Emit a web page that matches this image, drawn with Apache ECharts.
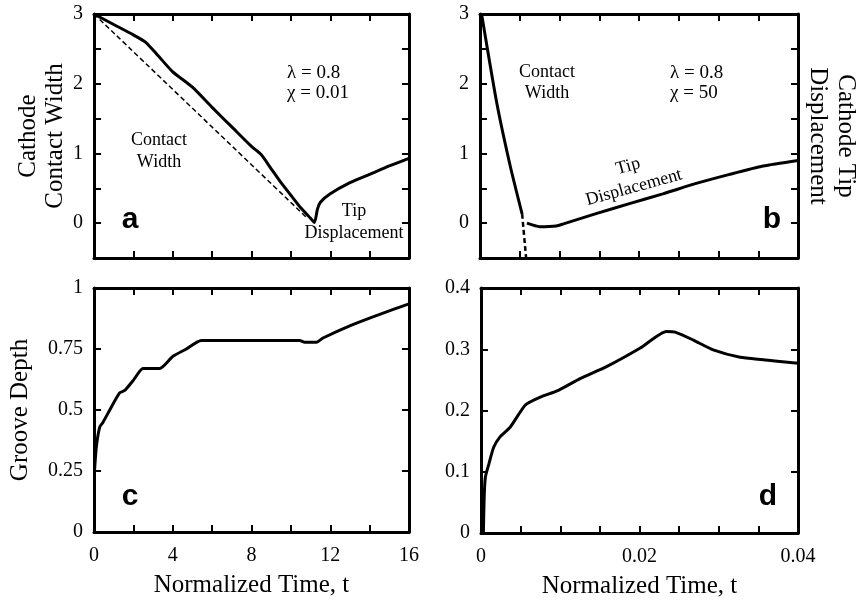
<!DOCTYPE html>
<html>
<head>
<meta charset="utf-8">
<script src="https://cdn.jsdelivr.net/npm/echarts@6/dist/echarts.min.js"></script>
<style>
html, body { margin: 0; padding: 0; background: #fff; }
#main { width: 857px; height: 600px; }
</style>
</head>
<body>
<div id="main"></div>
<script>
// panel a : chi = 0.01
var aTime  = [0, 1, 2, 2.6, 3.2, 4, 5, 6, 7, 8, 8.5, 9, 9.5, 10, 10.5, 11, 11.2, 11.35, 11.5, 12, 13, 14, 15, 16];
var aWidth = [3, 2.85, 2.7, 2.6, 2.42, 2.17, 1.95, 1.66, 1.38, 1.1, 0.98, 0.78, 0.58, 0.4, 0.22, 0.07, 0.01, 0.2, 0.3, 0.42, 0.58, 0.7, 0.82, 0.93];
var aDashTime  = [0, 10.8];
var aDashWidth = [3, 0.08];

// panel b : chi = 50
var bTime  = [0.0002, 0.0021, 0.0038, 0.0053];
var bWidth = [3, 1.73, 0.82, 0.13];
var bDashTime  = [0.0053, 0.0058];
var bDashWidth = [0.13, -0.5];
var bTipTime = [0.0059, 0.0075, 0.0096, 0.0105, 0.0147, 0.0188, 0.023, 0.0272, 0.0314, 0.0356, 0.04];
var bTipDisp = [0, -0.05, -0.04, -0.01, 0.14, 0.28, 0.42, 0.57, 0.7, 0.82, 0.9];

// panel c : groove depth, chi = 0.01
var cTime  = [0.03, 0.12, 0.29, 0.46, 0.8, 1.3, 1.56, 1.98, 2.49, 3.0, 3.34, 4.01, 4.69, 5.45, 10.45, 10.7, 11.3, 11.63, 12.99, 14.34, 16];
var cDepth = [0.255, 0.35, 0.43, 0.45, 0.5, 0.57, 0.58, 0.62, 0.67, 0.67, 0.67, 0.72, 0.75, 0.785, 0.785, 0.778, 0.778, 0.795, 0.845, 0.887, 0.935];

// panel d : groove depth, chi = 50
var dTime  = [0.0003, 0.0004, 0.00055, 0.001, 0.0016, 0.0024, 0.0037, 0.0056, 0.0075, 0.0096, 0.0125, 0.0159, 0.0201, 0.0234, 0.0245, 0.0268, 0.0293, 0.0327, 0.0356, 0.04];
var dDepth = [0, 0.058, 0.091, 0.113, 0.14, 0.157, 0.173, 0.209, 0.222, 0.232, 0.252, 0.272, 0.302, 0.329, 0.328, 0.315, 0.299, 0.287, 0.283, 0.277];

var serif = '"Liberation Serif", "Times New Roman", serif';

function zip(xs, ys) {
  return xs.map(function (x, i) { return [x, ys[i]]; });
}

function every(step) {
  return function (v) {
    var r = v / step;
    return Math.abs(r - Math.round(r)) < 1e-6 ? String(+v.toFixed(4)) : '';
  };
}

function axis(grid, pos, min, max, interval, labels, name, nameGap, nameRotate, nameLh) {
  var horiz = pos === 'bottom' || pos === 'top';
  return {
    type: 'value',
    gridIndex: grid,
    position: pos,
    min: min,
    max: max,
    interval: interval,
    name: name || '',
    nameLocation: 'middle',
    nameGap: nameGap || 0,
    nameRotate: nameRotate,
    nameTextStyle: { fontFamily: serif, fontSize: 25, color: '#000', lineHeight: nameLh || 27 },
    axisLine: { show: true, onZero: false, lineStyle: { color: '#000', width: 3 } },
    axisTick: { show: true, inside: true, length: 7, lineStyle: { color: '#000', width: 2 } },
    splitLine: { show: false },
    axisLabel: labels ? {
      show: true, margin: horiz ? 14 : 11, showMinLabel: true, showMaxLabel: true,
      fontFamily: serif, fontSize: 20, color: '#000', formatter: labels
    } : { show: false }
  };
}

function box(left, top, width, height) {
  return { left: left, top: top, width: width, height: height, containLabel: false, outerBoundsMode: 'none' };
}

var grids = [
  box(94, 14, 315, 244),
  box(480, 14, 318, 244),
  box(94, 288, 315, 244),
  box(481, 288, 317, 245)
];

var xAxes = [
  axis(0, 'bottom', 0, 16, 2, null),
  axis(0, 'top', 0, 16, 2, null),
  axis(1, 'bottom', 0, 0.04, 0.005, null),
  axis(1, 'top', 0, 0.04, 0.005, null),
  axis(2, 'bottom', 0, 16, 2, every(4), 'Normalized Time, t', 40),
  axis(2, 'top', 0, 16, 2, null),
  axis(3, 'bottom', 0, 0.04, 0.005, every(0.02), 'Normalized Time, t', 40),
  axis(3, 'top', 0, 0.04, 0.005, null)
];

var yAxes = [
  axis(0, 'left', -0.5, 3, 0.5, every(1), 'Cathode\nContact Width', 23, undefined, 27),
  axis(0, 'right', -0.5, 3, 0.5, null),
  axis(1, 'left', -0.5, 3, 0.5, every(1)),
  axis(1, 'right', -0.5, 3, 0.5, null, 'Cathode Tip\nDisplacement', 6, -90, 28),
  axis(2, 'left', 0, 1, 0.25, every(0.25), 'Groove Depth', 60),
  axis(2, 'right', 0, 1, 0.25, null),
  axis(3, 'left', 0, 0.4, 0.1, every(0.1)),
  axis(3, 'right', 0, 0.4, 0.1, null)
];

function line(grid, data, dashed, width) {
  return {
    type: 'line',
    xAxisIndex: grid * 2,
    yAxisIndex: grid * 2,
    data: data,
    showSymbol: false,
    symbol: 'none',
    smooth: 0.2,
    lineStyle: { color: '#000', width: width || 3, type: dashed ? [5, 3] : 'solid' }
  };
}

function txt(x, y, text, size, opts) {
  var o = {
    type: 'text', x: x, y: y, silent: true,
    style: {
      text: text, fill: '#000',
      font: (opts && opts.bold ? 'bold ' : '') + size + 'px ' + (opts && opts.sans ? '"Liberation Sans", Arial, sans-serif' : serif),
      align: (opts && opts.align) || 'center', verticalAlign: 'middle',
      lineHeight: (opts && opts.lh) || size + 3
    }
  };
  if (opts && opts.rot) o.rotation = opts.rot;
  return o;
}

var chart = echarts.init(document.getElementById('main'));
chart.setOption({
  animation: false,
  backgroundColor: '#fff',
  grid: grids,
  xAxis: xAxes,
  yAxis: yAxes,
  series: [
    line(0, zip(aTime, aWidth)),
    line(0, zip(aDashTime, aDashWidth), true, 1.5),
    line(1, zip(bTime, bWidth)),
    line(1, zip(bDashTime, bDashWidth), true, 2.5),
    line(1, zip(bTipTime, bTipDisp)),
    line(2, zip(cTime, cDepth)),
    line(3, zip(dTime, dDepth))
  ],
  graphic: [
    txt(287, 83, '\u03bb = 0.8\n\u03c7 = 0.01', 19, { align: 'left', lh: 20 }),
    txt(159, 151, 'Contact\nWidth', 18, { lh: 22 }),
    txt(354, 222, 'Tip\nDisplacement', 18, { lh: 22 }),
    txt(130, 220, 'a', 30, { bold: true, sans: true }),
    txt(547, 83, 'Contact\nWidth', 18, { lh: 21 }),
    txt(670, 83, '\u03bb = 0.8\n\u03c7 = 50', 19, { align: 'left', lh: 20 }),
    txt(631, 177, 'Tip\nDisplacement', 18, { lh: 22, rot: 0.27 }),
    txt(772, 220, 'b', 30, { bold: true, sans: true }),
    txt(130, 497, 'c', 30, { bold: true, sans: true }),
    txt(768, 497, 'd', 30, { bold: true, sans: true })
  ]
});
</script>
</body>
</html>
